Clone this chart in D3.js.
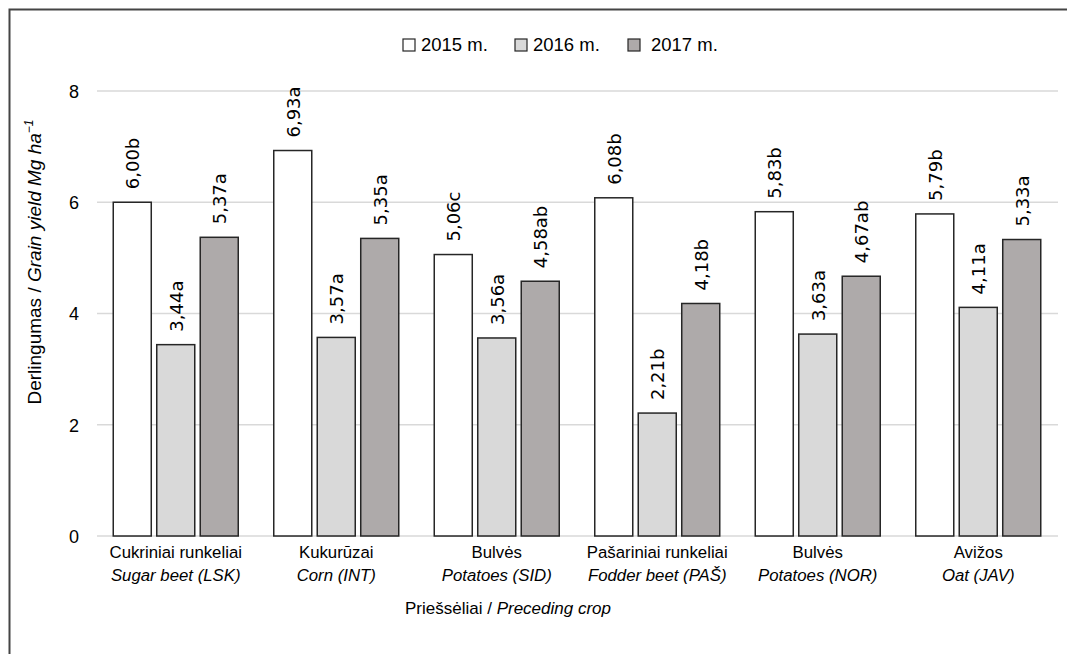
<!DOCTYPE html>
<html>
<head>
<meta charset="utf-8">
<script src="https://cdn.jsdelivr.net/npm/d3@7/dist/d3.min.js"></script>
<style>
  html, body { margin: 0; padding: 0; background: #fff; }
  svg { display: block; }
</style>
</head>
<body>
<svg id="chart" width="1067" height="654"></svg>
<script>
// Preceding crops (Lithuanian name, English name)
const cropsLt = ["Cukriniai runkeliai", "Kukurūzai", "Bulvės", "Pašariniai runkeliai", "Bulvės", "Avižos"];
const cropsEn = ["Sugar beet (LSK)", "Corn (INT)", "Potatoes (SID)", "Fodder beet (PAŠ)", "Potatoes (NOR)", "Oat (JAV)"];

// Grain yield, Mg ha-1, per year
const years = ["2015 m.", "2016 m.", "2017 m."];
const yield2015 = [6.00, 6.93, 5.06, 6.08, 5.83, 5.79];
const yield2016 = [3.44, 3.57, 3.56, 2.21, 3.63, 4.11];
const yield2017 = [5.37, 5.35, 4.58, 4.18, 4.67, 5.33];

// Significance letters
const letters2015 = ["b", "a", "c", "b", "b", "b"];
const letters2016 = ["a", "a", "a", "b", "a", "a"];
const letters2017 = ["a", "a", "ab", "b", "ab", "a"];

const yTicks = [0, 2, 4, 6, 8];
const fills = ["#ffffff", "#d9d9d9", "#aeaaaa"];

const series = [
  { values: yield2015, letters: letters2015 },
  { values: yield2016, letters: letters2016 },
  { values: yield2017, letters: letters2017 }
];

const svg = d3.select("#chart");
const plotLeft = 95.5, plotRight = 1058.5, plotTop = 91, plotBottom = 536;
const sans = "Liberation Sans, Arial, sans-serif";

// outer frame (top and left edges)
svg.append("path")
  .attr("d", "M9.5,654 V9.5 H1067")
  .attr("fill", "none")
  .attr("stroke", "#444")
  .attr("stroke-width", 2);

const x = d3.scaleBand().domain(d3.range(cropsLt.length)).range([plotLeft, plotRight]);
const inner = d3.scaleBand().domain(d3.range(3)).range([17.75, x.bandwidth() - 17.75]).paddingInner(0.126);
const y = d3.scaleLinear().domain([0, 8]).range([plotBottom, plotTop]);

// gridlines
svg.append("g").selectAll("line").data(yTicks).join("line")
  .attr("x1", 97).attr("x2", 1058)
  .attr("y1", d => y(d)).attr("y2", d => y(d))
  .attr("stroke", "#d9d9d9").attr("stroke-width", 1.5);

// y axis tick labels
const yAxis = d3.axisLeft(y).tickValues(yTicks).tickSize(0).tickPadding(0).tickFormat(d3.format("d"));
const ya = svg.append("g").attr("transform", "translate(79,0)").call(yAxis);
ya.select(".domain").remove();
ya.selectAll("text")
  .attr("font-family", sans)
  .attr("font-size", 18).attr("fill", "#000").attr("dy", "0.35em");

// y axis title
const yt = svg.append("text")
  .attr("transform", "translate(41,262) rotate(-90)")
  .attr("text-anchor", "middle")
  .attr("font-family", sans)
  .attr("font-size", 19).attr("fill", "#000");
yt.append("tspan").text("Derlingumas / ");
yt.append("tspan").attr("font-style", "italic").text("Grain yield Mg ha");
yt.append("tspan").attr("font-style", "italic").attr("font-size", 12).attr("dy", -8).text("−1");

// bars and value labels
const groups = svg.append("g").selectAll("g").data(d3.range(cropsLt.length)).join("g")
  .attr("transform", i => `translate(${x(i)},0)`);

series.forEach((s, k) => {
  groups.append("rect")
    .attr("x", inner(k))
    .attr("width", inner.bandwidth())
    .attr("y", i => y(s.values[i]))
    .attr("height", i => y(0) - y(s.values[i]))
    .attr("fill", fills[k])
    .attr("stroke", "#262626").attr("stroke-width", 1.5);

  groups.append("text")
    .attr("transform", i => `translate(${inner(k) + inner.bandwidth() / 2 + 7},${y(s.values[i]) - 13}) rotate(-90)`)
    .attr("font-family", "DejaVu Sans, sans-serif")
    .attr("font-size", 18).attr("fill", "#000")
    .text(i => d3.format(".2f")(s.values[i]).replace(".", ",") + s.letters[i]);
});

// category labels
const cat = svg.append("g").selectAll("g").data(d3.range(cropsLt.length)).join("g")
  .attr("transform", i => `translate(${x(i) + x.bandwidth() / 2},0)`);
cat.append("text").attr("y", 558).attr("text-anchor", "middle")
  .attr("font-family", sans).attr("font-size", 16.8)
  .text(i => cropsLt[i]);
cat.append("text").attr("y", 581).attr("text-anchor", "middle")
  .attr("font-family", sans).attr("font-size", 16.8)
  .attr("font-style", "italic")
  .text(i => cropsEn[i]);

// x axis title
const xt = svg.append("text").attr("x", 508).attr("y", 614).attr("text-anchor", "middle")
  .attr("font-family", sans).attr("font-size", 17);
xt.append("tspan").text("Priešsėliai / ");
xt.append("tspan").attr("font-style", "italic").text("Preceding crop");

// legend
const legendX = [403, 515, 628];
const legendGap = [18, 18, 23];
const lg = svg.append("g").selectAll("g").data(years).join("g")
  .attr("transform", (d, i) => `translate(${legendX[i]},45)`);
lg.append("rect").attr("x", 0).attr("y", -6).attr("width", 12).attr("height", 12)
  .attr("fill", (d, i) => fills[i]).attr("stroke", "#262626").attr("stroke-width", 1.2);
lg.append("text").attr("x", (d, i) => legendGap[i]).attr("y", 0).attr("dy", "0.35em")
  .attr("font-family", sans).attr("font-size", 18.5)
  .text(d => d);
</script>
</body>
</html>
